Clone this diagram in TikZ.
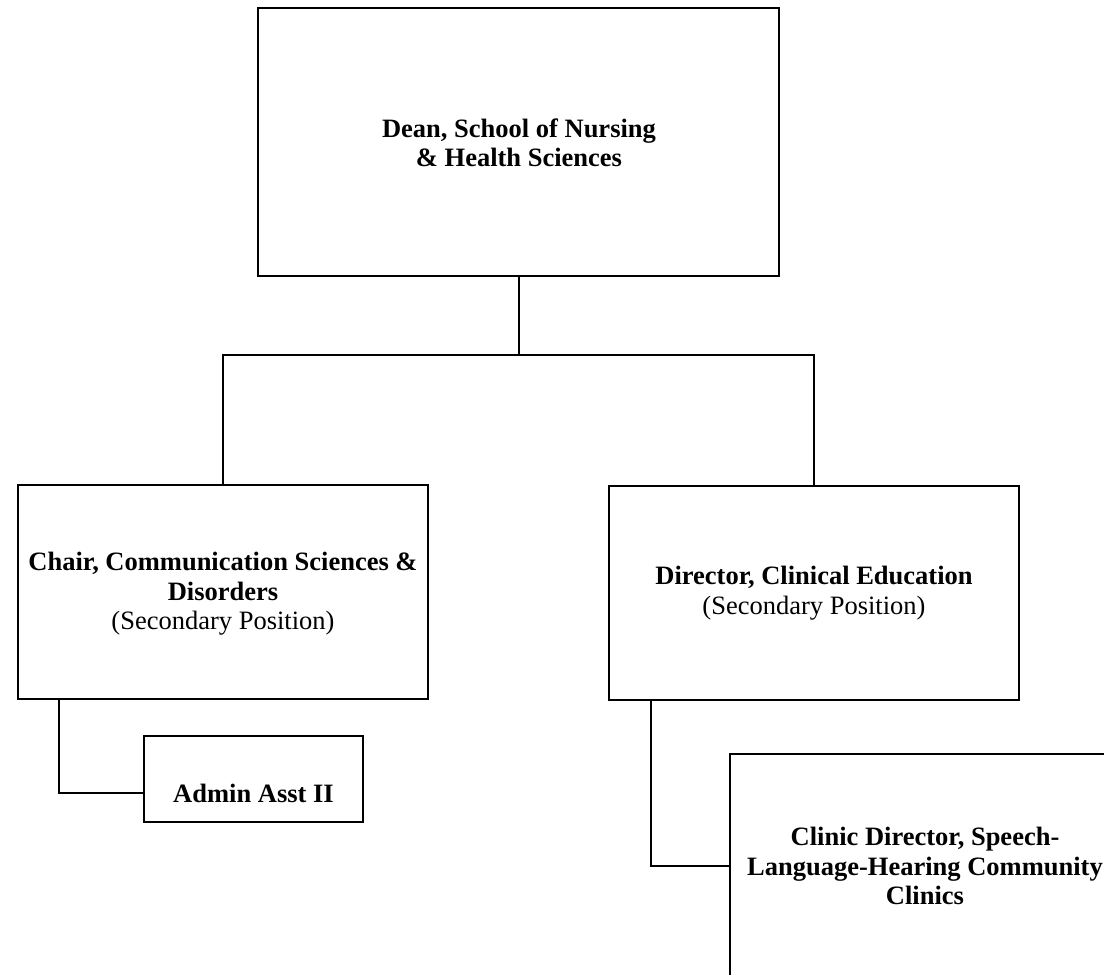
\documentclass[tikz,border=0pt]{standalone}
\usepackage{fontspec}
\setmainfont{Liberation Serif}
\begin{document}
\begin{tikzpicture}[x=1pt,y=-1pt,
  box/.style={draw,line width=2pt,rectangle,inner sep=0pt,outer sep=0pt},
  lbl/.style={align=center,font=\fontsize{26.5}{29.5}\selectfont,inner sep=0pt},
  conn/.style={line width=2pt}]
\useasboundingbox (0,0) rectangle (1104,975);
\clip (0,0) rectangle (1104,975);
\fill[white] (0,0) rectangle (1104,975);
% boxes
\node[box,minimum width=521pt,minimum height=268pt] (dean) at (518.5,142) {};
\node[box,minimum width=410pt,minimum height=214pt] (chair) at (223,592) {};
\node[box,minimum width=410pt,minimum height=214pt] (director) at (814,593) {};
\node[box,minimum width=219pt,minimum height=86pt] (admin) at (253.5,779) {};
\node[box,minimum width=390pt,minimum height=226pt] (clinic) at (925,867) {};
% texts
\node[lbl] (deantext) at (519,143) {\bfseries Dean, School of Nursing\\\bfseries \& Health Sciences};
\node[lbl] (chairtext) at (223,594) {\bfseries Chair, Communication Sciences \&\\\bfseries Disorders\\(Secondary Position)};
\node[lbl] (dirtext) at (814,593) {\bfseries Director, Clinical Education\\(Secondary Position)};
\node[lbl] (admintext) at (253.5,793) {\bfseries Admin Asst II};
\node[lbl] (clinictext) at (925,866) {\bfseries Clinic Director, Speech-\\\bfseries Language-Hearing Community\\\bfseries Clinics};
% connectors
\coordinate (bus) at (518.5,355);
\draw[conn] (dean.south) -- (bus);
\draw[conn] (chair.north) |- (bus) -| (director.north);
\draw[conn] ([xshift=41pt]chair.south west) |- (admin.west |- admintext);
\draw[conn] ([xshift=42pt]director.south west) |- (clinic.west |- clinictext);
\end{tikzpicture}
\end{document}
